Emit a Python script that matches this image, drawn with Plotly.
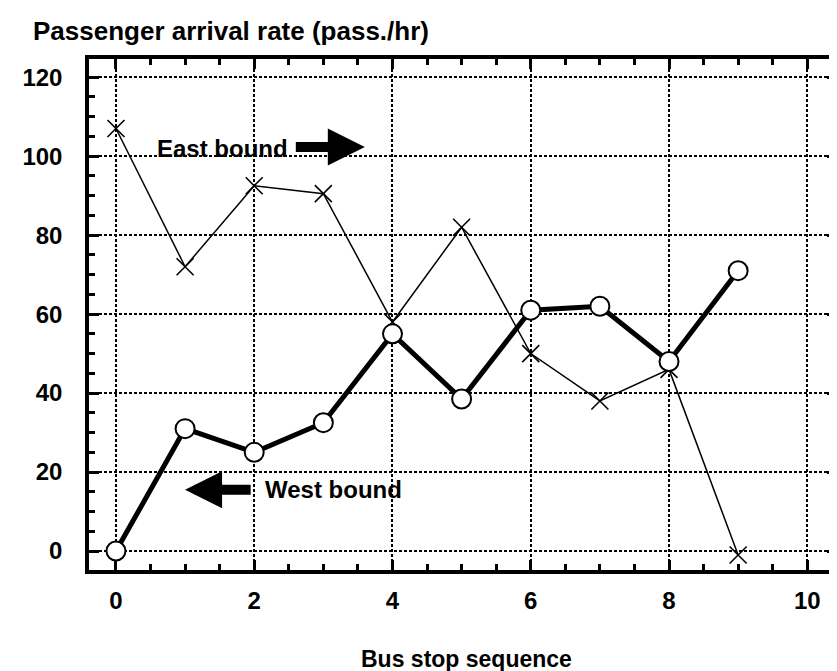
import plotly.graph_objects as go

# ---- data ----
stops = [0, 1, 2, 3, 4, 5, 6, 7, 8, 9]
east_bound = [107, 72, 92.5, 90.5, 58, 82, 50, 38, 46, -1]
west_bound = [0, 31, 25, 32.5, 55, 38.5, 61, 62, 48, 71]
x_ticks = [0, 2, 4, 6, 8, 10]
y_ticks = [0, 20, 40, 60, 80, 100, 120]

FONT = "Liberation Sans, Arial, sans-serif"

fig = go.Figure()
fig.add_trace(go.Scatter(
    x=stops, y=east_bound, mode="lines+markers", name="East bound",
    line=dict(color="black", width=1.5),
    marker=dict(symbol="x-thin", size=17, line=dict(color="black", width=1.6)),
    showlegend=False,
))
fig.add_trace(go.Scatter(
    x=stops, y=west_bound, mode="lines+markers", name="West bound",
    line=dict(color="black", width=5),
    marker=dict(symbol="circle", size=19, color="white", line=dict(color="black", width=2)),
    showlegend=False,
))

axis_common = dict(
    showline=True, linecolor="black", linewidth=3.5, mirror="ticks",
    ticks="inside", ticklen=10, tickwidth=3, tickcolor="black",
    showgrid=True, gridcolor="black", gridwidth=1.5, griddash="3px,2px",
    zeroline=False,
    tickfont=dict(family=FONT, size=24, color="black", weight="bold"),
)

fig.update_xaxes(
    range=[-0.39, 10.43], tickvals=x_ticks, ticktext=[str(v) for v in x_ticks],
    minor=dict(dtick=0.5, tick0=0, ticks="inside", ticklen=6, tickwidth=3, tickcolor="black", showgrid=False),
    ticklabelstandoff=6,
    **axis_common,
)
fig.update_yaxes(
    range=[-4.8, 124.6], tickvals=y_ticks, ticktext=[str(v) for v in y_ticks],
    minor=dict(dtick=5, tick0=0, ticks="inside", ticklen=6, tickwidth=3, tickcolor="black", showgrid=False),
    ticklabelstandoff=18,
    **axis_common,
)

annotations = [
    dict(text="Passenger arrival rate (pass./hr)", xref="paper", yref="paper",
         x=-0.077, y=1.055, xanchor="left", yanchor="middle", showarrow=False,
         font=dict(family=FONT, size=26, color="black", weight="bold")),
    dict(text="Bus stop sequence", xref="paper", yref="paper",
         x=0.505, y=-0.174, xanchor="center", yanchor="middle", showarrow=False,
         font=dict(family=FONT, size=23, color="black", weight="bold")),
    dict(text="East bound", xref="x", yref="y", x=1.54, y=102,
         xanchor="center", yanchor="middle", showarrow=False,
         font=dict(family=FONT, size=24, color="black", weight="bold")),
    dict(text="West bound", xref="x", yref="y", x=3.14, y=15.5,
         xanchor="center", yanchor="middle", showarrow=False,
         font=dict(family=FONT, size=24, color="black", weight="bold")),
    # East arrow (pointing right)
    dict(x=3.6, y=102.3, ax=2.58, ay=102.3, xref="x", yref="y", axref="x", ayref="y",
         text="", showarrow=True, arrowhead=2, arrowsize=0.74, arrowwidth=10, arrowcolor="black"),
    # West arrow (pointing left)
    dict(x=1.0, y=15.5, ax=1.97, ay=15.5, xref="x", yref="y", axref="x", ayref="y",
         text="", showarrow=True, arrowhead=2, arrowsize=0.74, arrowwidth=10, arrowcolor="black"),
]

fig.update_layout(
    width=837, height=671,
    margin=dict(l=81, r=4, t=51, b=109),
    paper_bgcolor="white", plot_bgcolor="white",
    annotations=annotations,
    font=dict(family=FONT, color="black"),
)

fig.write_html("out.html")
